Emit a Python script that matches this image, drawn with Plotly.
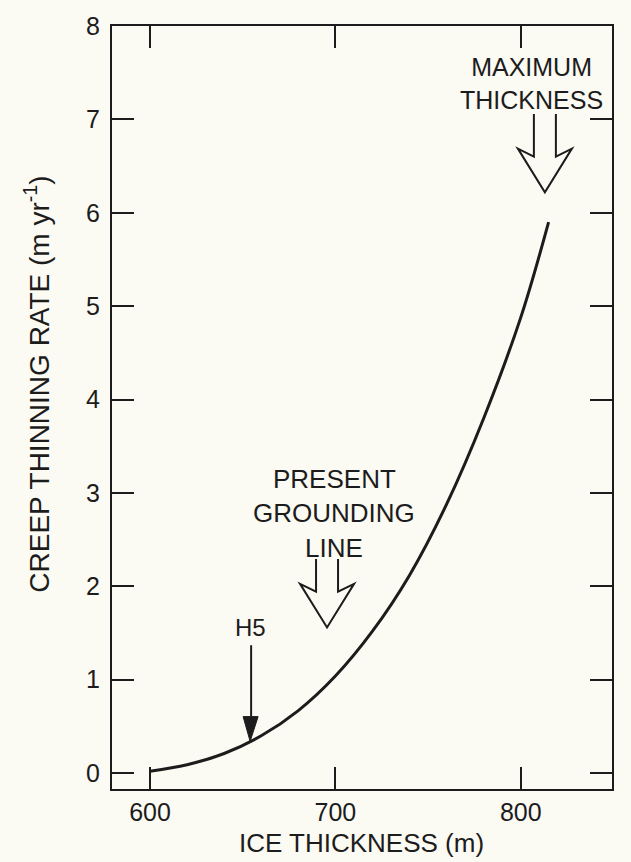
import plotly.graph_objects as go

# ---- data ----
THICKNESS = [600, 620, 640, 660, 680, 700, 720, 740, 760, 780, 800, 815]
RATE = [0.02, 0.09, 0.21, 0.40, 0.67, 1.04, 1.52, 2.12, 2.88, 3.80, 4.88, 5.90]
X_TICKS = [600, 700, 800]
Y_TICKS = [0, 1, 2, 3, 4, 5, 6, 7, 8]

H5_X, H5_Y = 654, 0.34
PRESENT_X, PRESENT_Y = 695.5, 1.56
MAX_X, MAX_Y = 813.0, 6.22

# ---- layout geometry ----
W, H = 631, 862
ML, MR, MT, MB = 112, 19, 19, 73
PW, PH = W - ML - MR, H - MT - MB
X_RANGE = [579.5, 849.2]
Y_RANGE = [-0.17, 8.0]
DX = (X_RANGE[1] - X_RANGE[0]) / PW   # data units per px
DY = (Y_RANGE[1] - Y_RANGE[0]) / PH

INK = "#1c1c1c"
BG = "#fbfaf3"
FONT = "Liberation Sans, Arial, Helvetica, sans-serif"


def off(x0, y0, dxp, dyp):
    """offset a data point by pixels (dyp positive = down)"""
    return x0 + dxp * DX, y0 - dyp * DY


def hollow_arrow_path(tx, ty, top_px):
    pts = [(-11, -top_px), (-11, -36), (-27, -44), (0, 0), (27, -44), (11, -36), (11, -top_px)]
    coords = [off(tx, ty, a, b) for a, b in pts]
    return "M " + " L ".join(f"{x},{y}" for x, y in coords)


fig = go.Figure()
fig.add_trace(go.Scatter(x=THICKNESS, y=RATE, mode="lines",
                         line=dict(color=INK, width=3, shape="spline", smoothing=1.0),
                         hoverinfo="skip", showlegend=False))

shapes = []
# hollow arrows
shapes.append(dict(type="path", xref="x", yref="y",
                   path=hollow_arrow_path(PRESENT_X, PRESENT_Y, 69),
                   line=dict(color=INK, width=2)))
shapes.append(dict(type="path", xref="x", yref="y",
                   path=hollow_arrow_path(MAX_X, MAX_Y, 79),
                   line=dict(color=INK, width=2)))
# H5 arrow: shaft + filled head
sx0, sy0 = off(H5_X, H5_Y, 1, -97)
sx1, sy1 = off(H5_X, H5_Y, 1, -20)
shapes.append(dict(type="line", xref="x", yref="y", x0=sx0, y0=sy0, x1=sx1, y1=sy1,
                   line=dict(color=INK, width=2)))
hp = [off(H5_X, H5_Y, a, b) for a, b in [(-7, -25), (8, -25), (0, 0)]]
shapes.append(dict(type="path", xref="x", yref="y",
                   path="M " + " L ".join(f"{x},{y}" for x, y in hp) + " Z",
                   fillcolor=INK, line=dict(color=INK, width=1)))

ann = []
def text(x, y, s, size=26):
    ann.append(dict(x=x, y=y, xref="x", yref="y", text=s, showarrow=False,
                    font=dict(family=FONT, size=size, color=INK),
                    xanchor="center", yanchor="middle"))

tx, ty = off(H5_X, H5_Y, 0, -115)
text(tx, ty, "H5", 24)
for i, s in enumerate(["PRESENT", "GROUNDING", "LINE"]):
    tx, ty = off(PRESENT_X, PRESENT_Y, 7, -150 + 35 * i)
    text(tx, ty, s)
tx, ty = off(MAX_X, MAX_Y, -13, -110)
text(tx, ty, "MAXIMUM<br>THICKNESS", 25)

# axis titles
ann.append(dict(x=(361 - ML) / PW, y=(MT + PH - 861) / PH, xref="paper", yref="paper",
                text="ICE THICKNESS (m)", showarrow=False,
                font=dict(family=FONT, size=26, color=INK),
                xanchor="center", yanchor="bottom"))
ann.append(dict(x=(37 - ML) / PW, y=(MT + PH - 381) / PH, xref="paper", yref="paper",
                text="CREEP THINNING RATE (m yr<sup>-1</sup>)", showarrow=False,
                textangle=-90,
                font=dict(family=FONT, size=28, color=INK),
                xanchor="center", yanchor="middle"))

axis_common = dict(showline=True, linecolor=INK, linewidth=2, mirror="ticks",
                   ticks="inside", ticklen=22, tickwidth=2, tickcolor=INK,
                   showgrid=False, zeroline=False,
                   tickfont=dict(family=FONT, size=25, color=INK))

fig.update_layout(
    width=W, height=H,
    margin=dict(l=ML, r=MR, t=MT, b=MB, pad=0),
    paper_bgcolor=BG, plot_bgcolor=BG,
    xaxis=dict(range=X_RANGE, tickvals=X_TICKS, ticklabelstandoff=0, **axis_common),
    yaxis=dict(range=Y_RANGE, tickvals=Y_TICKS, ticklabelstandoff=5, **axis_common),
    shapes=shapes, annotations=ann,
)

fig.write_html("out.html")
